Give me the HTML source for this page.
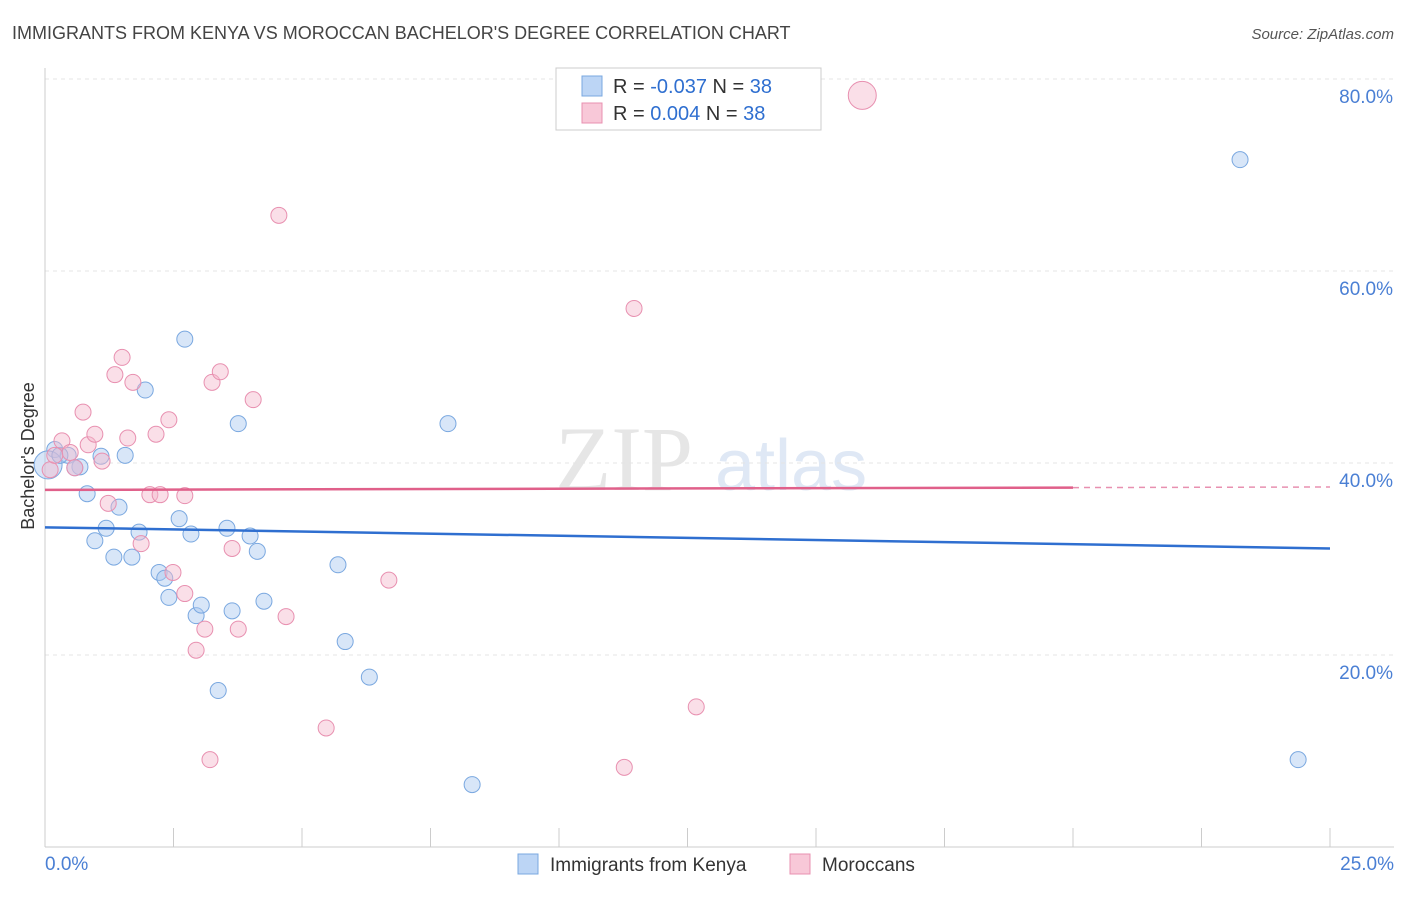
<!DOCTYPE html>
<html><head><meta charset="utf-8"><style>
body{margin:0;background:#fff;font-family:"Liberation Sans",sans-serif;}
</style></head><body>
<svg id="chart" width="1406" height="892" xmlns="http://www.w3.org/2000/svg" font-family="Liberation Sans, sans-serif">
<text x="12" y="39" font-size="18" fill="#444">IMMIGRANTS FROM KENYA VS MOROCCAN BACHELOR'S DEGREE CORRELATION CHART</text>
<text x="1394" y="39" font-size="15" fill="#555" text-anchor="end" font-style="italic">Source: ZipAtlas.com</text>
<text x="555" y="490" font-size="92" fill="#e6e6e6" font-family="Liberation Serif, serif">ZIP</text>
<text x="715" y="490" font-size="72" fill="#dfe8f5">atlas</text>
<g id="grid"></g>
<g id="axes"></g>
<g id="marks"></g>
<text transform="translate(34,456) rotate(-90)" font-size="18" fill="#333" text-anchor="middle">Bachelor's Degree</text>
<g>
<rect x="556" y="68" width="265" height="62" fill="#fff" stroke="#ccc"/>
<rect x="582" y="76" width="20" height="20" fill="#bcd5f5" stroke="#7aa8e0"/>
<rect x="582" y="103" width="20" height="20" fill="#f8c8d8" stroke="#e890b0"/>
<text x="613" y="93" font-size="20" fill="#333">R = <tspan fill="#2f6fd0">-0.037</tspan>   N = <tspan fill="#2f6fd0">38</tspan></text>
<text x="613" y="120" font-size="20" fill="#333">R =  <tspan fill="#2f6fd0">0.004</tspan>   N = <tspan fill="#2f6fd0">38</tspan></text>
</g>
<g>
<rect x="518" y="854" width="20" height="20" fill="#bcd5f5" stroke="#7aa8e0"/>
<text x="550" y="871" font-size="19" fill="#333">Immigrants from Kenya</text>
<rect x="790" y="854" width="20" height="20" fill="#f8c8d8" stroke="#e890b0"/>
<text x="822" y="871" font-size="19" fill="#333">Moroccans</text>
</g>
</svg>
<script>
const blueX=[0.19,0.45,0.68,0.82,0.97,1.09,1.19,1.34,1.44,1.56,1.69,1.83,1.95,2.22,2.33,2.41,2.61,2.72,2.84,2.94,3.04,3.37,3.54,3.64,3.76,3.99,4.13,4.26,5.70,5.84,6.31,7.84,8.31,23.25,24.38,0.06,0.29,0.58];
const blueY=[41.4,40.8,39.6,36.8,31.9,40.7,33.2,30.2,35.4,40.8,30.2,32.8,47.6,28.6,28.0,26.0,34.2,52.9,32.6,24.1,25.2,16.3,33.2,24.6,44.1,32.4,30.8,25.6,29.4,21.4,17.7,44.1,6.5,71.6,9.1,39.8,40.8,39.5];
const pinkX=[0.10,0.33,0.49,0.74,0.84,0.97,1.11,1.23,1.36,1.50,1.61,1.71,1.87,2.04,2.16,2.24,2.41,2.49,2.72,2.72,2.94,3.11,3.21,3.25,3.41,3.64,3.76,4.05,4.55,4.69,5.47,6.69,11.27,11.46,12.67,15.90,0.19,0.58];
const pinkY=[39.3,42.3,41.1,45.3,41.9,43.0,40.2,35.8,49.2,51.0,42.6,48.4,31.6,36.7,43.0,36.7,44.5,28.6,36.6,26.4,20.5,22.7,9.1,48.4,49.5,31.1,22.7,46.6,65.8,24.0,12.4,27.8,8.3,56.1,14.6,78.3,40.8,39.5];
const blueTrend=[33.3,31.1];
const pinkTrend=[37.2,37.5];
const yTicks=[20,40,60,80];
const xTickVals=[0,2.5,5,7.5,10,12.5,15,17.5,20,22.5,25];
const NS="http://www.w3.org/2000/svg";
const sx=v=>45+v*1285/25, sy=v=>847-v*9.6;
function mk(t,a,p){const e=document.createElementNS(NS,t);for(const k in a)e.setAttribute(k,a[k]);document.getElementById(p).appendChild(e);return e;}
yTicks.forEach(v=>{
 const l=mk('line',{x1:45,x2:1394,y1:sy(v),y2:sy(v),stroke:'#e4e4e4','stroke-dasharray':'4,4'},'grid');
 
 
 const t=mk('text',{x:1393,y:sy(v)+24,'font-size':19,fill:'#4a7fd4','text-anchor':'end'},'axes');
 t.textContent=v.toFixed(1)+'%';
 
 
});
const ax=mk('line',{x1:45,x2:45,y1:68,y2:847,stroke:'#ccc'},'axes');


const bx=mk('line',{x1:45,x2:1394,y1:847,y2:847,stroke:'#ccc'},'axes');


xTickVals.forEach(v=>{
 const l=mk('line',{x1:sx(v),x2:sx(v),y1:828,y2:847,stroke:'#ccc'},'axes');
 
 
});
[[0,'start'],[25,'end']].forEach(([v,a])=>{
 const t=mk('text',{x:v==0?45:1394,y:870,'font-size':19,fill:'#4a7fd4','text-anchor':a},'axes');
 t.textContent=v.toFixed(1)+'%';
 
 
});
function pts(X,Y,fill,stroke,name){
 X.forEach((x,i)=>{
  const r=(i==35)?14:8;
  const c=mk('circle',{cx:sx(x),cy:sy(Y[i]),r:r,fill:fill,'fill-opacity':0.45,stroke:stroke,'stroke-width':1},'marks');
  
  
 });
}
pts(blueX,blueY,'#a8c8f0','#7aa8e0','kenya-point');
pts(pinkX,pinkY,'#f4b8cc','#e890b0','moroccan-point');
const bl=mk('line',{x1:sx(0),x2:sx(25),y1:sy(blueTrend[0]),y2:sy(blueTrend[1]),stroke:'#2f6fd0','stroke-width':2.5},'marks');


const pm=pinkTrend[0]+(pinkTrend[1]-pinkTrend[0])*0.8;
const pl=mk('line',{x1:sx(0),x2:sx(20),y1:sy(pinkTrend[0]),y2:sy(pm),stroke:'#e0608a','stroke-width':2.5},'marks');


const pd=mk('line',{x1:sx(20),x2:sx(25),y1:sy(pm),y2:sy(pinkTrend[1]),stroke:'#e890b0','stroke-width':1.5,'stroke-dasharray':'6,5'},'marks');


</script>
</body></html>
